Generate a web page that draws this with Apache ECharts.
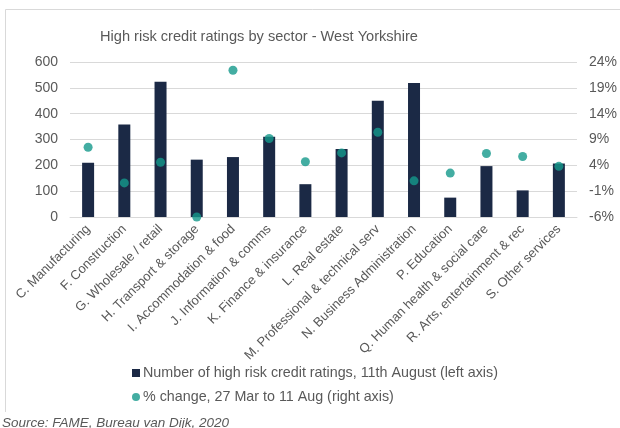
<!DOCTYPE html>
<html>
<head>
<meta charset="utf-8">
<script src="https://cdn.jsdelivr.net/npm/echarts@6/dist/echarts.min.js"></script>
<style>
  html, body { margin: 0; padding: 0; background: #ffffff; }
  #chart { width: 620px; height: 428px; }
</style>
</head>
<body>
<div id="chart"></div>
<script>
// Sectors (x axis)
const sectors = [
  'C. Manufacturing',
  'F. Construction',
  'G. Wholesale / retail',
  'H. Transport & storage',
  'I. Accommodation & food',
  'J. Information & comms',
  'K. Finance & insurance',
  'L. Real estate',
  'M. Professional & technical serv',
  'N. Business Administration',
  'P. Education',
  'Q. Human health & social care',
  'R. Arts, entertainment & rec',
  'S. Other services'
];

// Number of high risk credit ratings, 11th August (left axis)
const ratingCounts = [210, 358, 524, 222, 232, 311, 127, 263, 450, 519, 75, 197, 103, 207];

// % change, 27 Mar to 11 Aug (right axis), in percent
const pctChange = [7.5, 0.6, 4.6, -6.0, 22.4, 9.2, 4.7, 6.4, 10.4, 1.0, 2.5, 6.3, 5.7, 3.8];

// Axis ranges and tick spacing
const leftAxis = { min: 0, max: 600, interval: 100 };
const rightAxis = { min: -6, max: 24, interval: 5 };

const barName = 'Number of high risk credit ratings, 11th August (left axis)';
const dotName = '% change, 27 Mar to 11 Aug (right axis)';

const textGrey = '#595959';
const gridGrey = '#d9d9d9';
const navy = '#1b2945';
const teal = '#14998b';
const font = 'Liberation Sans, Arial, sans-serif';

const chart = echarts.init(document.getElementById('chart'), null, { renderer: 'canvas' });

const legendText = { fontSize: 14.3, color: textGrey, fontFamily: font, padding: [0, 0, 0, -2] };

chart.setOption({
  animation: false,
  backgroundColor: '#ffffff',
  textStyle: { fontFamily: font },
  title: {
    text: 'High risk credit ratings by sector - West Yorkshire',
    left: 100,
    top: 29,
    padding: 0,
    textStyle: { fontSize: 14.6, fontWeight: 'normal', color: textGrey, fontFamily: font }
  },
  grid: { left: 70, right: 42, top: 62, bottom: 211, containLabel: false },
  legend: [
    {
      data: [{ name: barName, icon: 'rect' }],
      orient: 'vertical',
      left: 132,
      top: 366,
      padding: 0,
      itemWidth: 8,
      itemHeight: 8,
      itemGap: 0,
      textStyle: legendText
    },
    {
      data: [{ name: dotName, icon: 'circle' }],
      orient: 'vertical',
      left: 132,
      top: 390,
      padding: 0,
      itemWidth: 8,
      itemHeight: 8,
      itemGap: 0,
      textStyle: legendText
    }
  ],
  xAxis: {
    type: 'category',
    data: sectors,
    axisLine: { show: true, lineStyle: { color: gridGrey } },
    axisTick: { show: false },
    axisLabel: {
      rotate: 45,
      interval: 0,
      margin: 10,
      fontSize: 13,
      color: textGrey,
      fontFamily: font
    }
  },
  yAxis: [
    {
      type: 'value',
      min: leftAxis.min,
      max: leftAxis.max,
      interval: leftAxis.interval,
      axisLine: { show: false },
      axisTick: { show: false },
      splitLine: { lineStyle: { color: gridGrey, width: 1 } },
      axisLabel: { margin: 12, fontSize: 14, color: textGrey, fontFamily: font }
    },
    {
      type: 'value',
      min: rightAxis.min,
      max: rightAxis.max,
      interval: rightAxis.interval,
      axisLine: { show: false },
      axisTick: { show: false },
      splitLine: { show: false },
      axisLabel: {
        margin: 12,
        fontSize: 14,
        color: textGrey,
        fontFamily: font,
        formatter: v => Math.round(v) + '%'
      }
    }
  ],
  series: [
    {
      name: barName,
      type: 'bar',
      yAxisIndex: 0,
      data: ratingCounts,
      barWidth: 12,
      itemStyle: { color: navy },
      z: 2
    },
    {
      name: dotName,
      type: 'scatter',
      yAxisIndex: 1,
      data: pctChange,
      symbol: 'circle',
      symbolSize: 9,
      itemStyle: { color: teal },
      z: 3
    }
  ],
  graphic: [
    {
      type: 'polyline',
      shape: { points: [[5.5, 412], [5.5, 9.5], [620, 9.5]] },
      style: { stroke: gridGrey, lineWidth: 1, fill: null },
      silent: true
    },
    {
      type: 'text',
      left: 2,
      top: 416,
      style: {
        text: 'Source: FAME, Bureau van Dijk, 2020',
        font: 'italic 13.5px ' + font,
        fill: textGrey
      },
      silent: true
    }
  ]
});
</script>
</body>
</html>
